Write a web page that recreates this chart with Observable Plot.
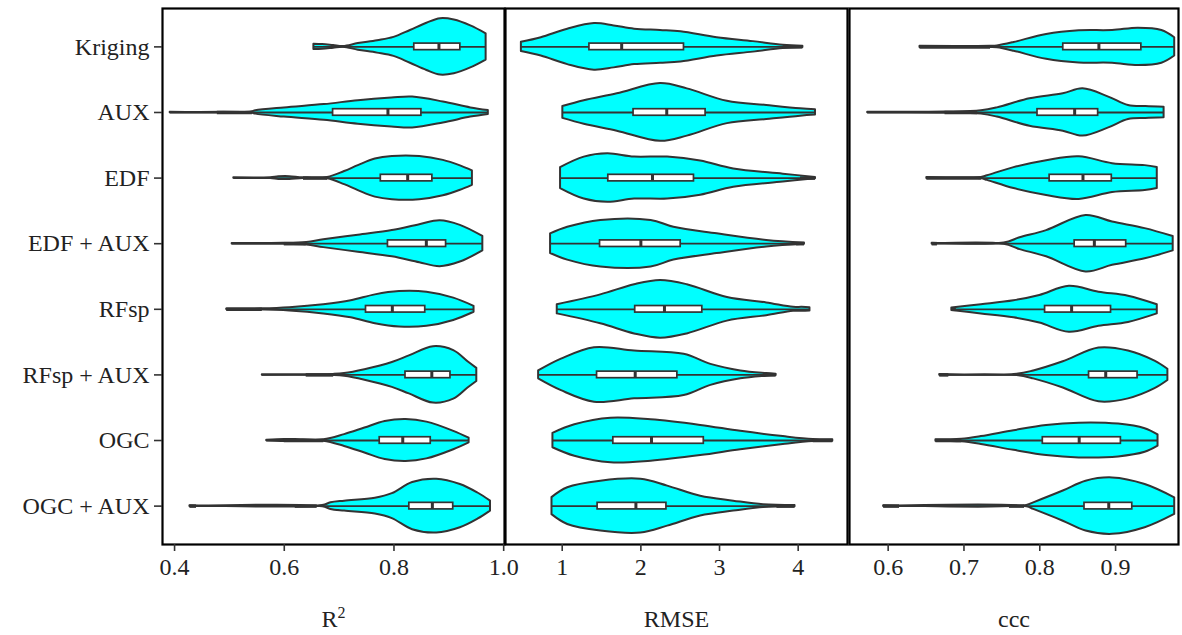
<!DOCTYPE html>
<html>
<head>
<meta charset="utf-8">
<script src="https://cdn.jsdelivr.net/npm/d3@7"></script>
<script src="https://cdn.jsdelivr.net/npm/@observablehq/plot@0.6"></script>
<style>
  body { margin: 0; background: white; }
  #wrap { position: relative; width: 1182px; height: 635px; background: white; }
  #wrap > div { position: absolute; top: 0; }
</style>
</head>
<body>
<div id="wrap"><div id="p1"></div><div id="p2"></div><div id="p3"></div></div>
<script>
const categories = ["Kriging", "AUX", "EDF", "EDF + AUX", "RFsp", "RFsp + AUX", "OGC", "OGC + AUX"];

// Violin outlines: [value, half-width in row units]
const r2Violins = [
  [[0.654,0.04],[0.67,0.035],[0.69,0.02],[0.708,0.006],[0.735,0.05],[0.77,0.095],[0.80,0.145],[0.83,0.25],[0.86,0.36],[0.885,0.43],[0.91,0.41],[0.94,0.32],[0.968,0.2]],
  [[0.392,0.004],[0.54,0.006],[0.548,0.025],[0.60,0.07],[0.673,0.12],[0.735,0.18],[0.796,0.22],[0.834,0.235],[0.89,0.16],[0.94,0.07],[0.972,0.03]],
  [[0.508,0.004],[0.575,0.006],[0.59,0.02],[0.61,0.022],[0.635,0.006],[0.679,0.01],[0.71,0.10],[0.735,0.19],[0.766,0.29],[0.797,0.33],[0.847,0.33],[0.89,0.27],[0.92,0.19],[0.943,0.11]],
  [[0.505,0.004],[0.598,0.006],[0.641,0.02],[0.672,0.06],[0.735,0.13],[0.797,0.2],[0.847,0.29],[0.884,0.35],[0.921,0.28],[0.962,0.11]],
  [[0.495,0.004],[0.56,0.008],[0.61,0.025],[0.672,0.07],[0.722,0.13],[0.766,0.22],[0.81,0.27],[0.86,0.26],[0.909,0.17],[0.946,0.045]],
  [[0.56,0.004],[0.69,0.008],[0.71,0.02],[0.747,0.08],[0.797,0.19],[0.828,0.29],[0.872,0.43],[0.909,0.37],[0.935,0.2],[0.951,0.1]],
  [[0.568,0.004],[0.60,0.015],[0.62,0.015],[0.672,0.01],[0.71,0.09],[0.747,0.19],[0.784,0.29],[0.822,0.32],[0.86,0.28],[0.909,0.14],[0.937,0.035]],
  [[0.428,0.004],[0.67,0.008],[0.685,0.05],[0.71,0.076],[0.766,0.12],[0.797,0.19],[0.834,0.36],[0.878,0.41],[0.921,0.33],[0.953,0.2],[0.976,0.076]]
];
const r2Q1 = [0.837,0.689,0.776,0.789,0.749,0.821,0.774,0.828];
const r2Median = [0.882,0.789,0.825,0.859,0.797,0.869,0.816,0.870];
const r2Q3 = [0.921,0.850,0.870,0.895,0.857,0.903,0.867,0.908];
const r2Outliers = [null, [[0.478,0.542]], [[0.635,0.679]], [[0.60,0.64]], [[0.495,0.56]], [[0.64,0.69]], [[0.60,0.672]], [[0.428,0.44],[0.62,0.66]]];

const rmseViolins = [
  [[0.481,0.07],[0.734,0.14],[1.07,0.27],[1.41,0.355],[1.66,0.32],[1.92,0.27],[2.25,0.25],[2.51,0.23],[2.97,0.14],[3.43,0.08],[3.81,0.025],[4.06,0.01]],
  [[1.008,0.09],[1.28,0.18],[1.70,0.285],[2.25,0.44],[2.59,0.36],[3.10,0.17],[3.60,0.107],[4.03,0.056],[4.22,0.04]],
  [[0.979,0.16],[1.28,0.32],[1.58,0.37],[1.92,0.32],[2.34,0.32],[2.76,0.26],[3.18,0.14],[3.81,0.06],[4.22,0.01]],
  [[0.852,0.15],[1.07,0.25],[1.49,0.355],[2.13,0.355],[2.42,0.25],[2.97,0.15],[3.60,0.05],[4.08,0.01]],
  [[0.937,0.07],[1.49,0.22],[1.92,0.375],[2.25,0.44],[2.59,0.375],[3.10,0.18],[3.60,0.097],[3.94,0.03],[4.05,0.03],[4.15,0.025]],
  [[0.70,0.06],[0.99,0.24],[1.41,0.415],[1.92,0.365],[2.55,0.315],[2.89,0.16],[3.27,0.06],[3.60,0.02],[3.72,0.01]],
  [[0.882,0.11],[1.16,0.24],[1.62,0.34],[2.13,0.315],[2.76,0.23],[3.27,0.14],[3.81,0.06],[4.19,0.015],[4.44,0.01]],
  [[0.87,0.13],[1.07,0.28],[1.49,0.38],[2.0,0.41],[2.34,0.305],[2.76,0.15],[3.18,0.076],[3.56,0.02],[3.96,0.008]]
];
const rmseQ1 = [1.346,1.907,1.586,1.481,1.928,1.443,1.65,1.45];
const rmseMedian = [1.756,2.329,2.148,2.0,2.30,1.928,2.135,1.937];
const rmseQ3 = [2.548,2.823,2.675,2.506,2.781,2.464,2.80,2.325];
const rmseOutliers = [[[3.81,4.06]], null, [[4.03,4.22]], [[3.98,4.08]], null, [[3.56,3.72]], [[4.19,4.44]], [[3.73,3.96]]];

const cccViolins = [
  [[0.642,0.008],[0.735,0.01],[0.744,0.015],[0.766,0.066],[0.809,0.19],[0.852,0.245],[0.896,0.25],[0.93,0.285],[0.961,0.25],[0.978,0.14]],
  [[0.573,0.004],[0.675,0.006],[0.723,0.025],[0.744,0.07],[0.787,0.21],[0.831,0.285],[0.857,0.36],[0.891,0.235],[0.917,0.107],[0.94,0.09],[0.964,0.08]],
  [[0.651,0.008],[0.723,0.01],[0.731,0.035],[0.766,0.16],[0.809,0.265],[0.852,0.325],[0.896,0.22],[0.939,0.19],[0.955,0.16]],
  [[0.658,0.006],[0.753,0.01],[0.774,0.09],[0.809,0.2],[0.861,0.43],[0.896,0.33],[0.939,0.23],[0.976,0.11]],
  [[0.684,0.02],[0.723,0.07],[0.766,0.13],[0.80,0.21],[0.839,0.35],[0.878,0.26],[0.917,0.2],[0.955,0.07]],
  [[0.668,0.005],[0.77,0.01],[0.792,0.06],[0.831,0.2],[0.878,0.41],[0.917,0.365],[0.952,0.21],[0.969,0.086]],
  [[0.663,0.01],[0.697,0.02],[0.723,0.06],[0.766,0.15],[0.809,0.23],[0.852,0.265],[0.904,0.25],[0.939,0.18],[0.956,0.086]],
  [[0.594,0.005],[0.783,0.01],[0.792,0.05],[0.831,0.23],[0.861,0.38],[0.896,0.43],[0.939,0.33],[0.978,0.127]]
];
const cccQ1 = [0.831,0.797,0.813,0.846,0.807,0.865,0.804,0.859];
const cccMedian = [0.878,0.846,0.857,0.872,0.842,0.887,0.852,0.891];
const cccQ3 = [0.934,0.877,0.895,0.914,0.894,0.929,0.907,0.922];
const cccOutliers = [[[0.642,0.735]], [[0.675,0.718]], [[0.651,0.723]], [[0.658,0.665]], [[0.684,0.69]], [[0.668,0.68]], [[0.663,0.697]], [[0.594,0.615],[0.76,0.78]]];

const r2Ticks = [0.4, 0.6, 0.8, 1.0];
const rmseTicks = [1, 2, 3, 4];
const cccTicks = [0.6, 0.7, 0.8, 0.9];

const INK = "#333";
const CYAN = "#00FFFF";

function panel(o) {
  const areaData = o.violins.flatMap((prof, i) => prof.map(([v, hw]) => ({i, v, hw})));
  const lineData = o.violins.map((prof, i) => ({i, min: prof[0][0], max: prof[prof.length - 1][0]}));
  const outData = o.outliers.flatMap((r, i) => r ? r.map(([a, b]) => ({i, a, b})) : []);
  const boxData = o.q1.map((d, i) => ({i, q1: d, med: o.med[i], q3: o.q3[i]}));
  const bh = 0.05;
  return Plot.plot({
    width: o.width, height: 635,
    marginTop: 8, marginBottom: 91, marginLeft: o.marginLeft, marginRight: o.marginRight,
    x: {domain: o.domain},
    y: {domain: [-0.585, 7.585], reverse: true, axis: null},
    style: {fontFamily: "'Liberation Serif', 'Times New Roman', serif", fontSize: "24px", color: "#222", background: "transparent", overflow: "visible"},
    marks: [
      Plot.areaY(areaData, {x: "v", y1: d => d.i - d.hw, y2: d => d.i + d.hw, z: "i", fill: CYAN, stroke: INK, strokeWidth: 2, curve: "catmull-rom"}),
      Plot.ruleY(lineData, {y: "i", x1: "min", x2: "max", stroke: INK, strokeWidth: 1.8}),
      Plot.ruleY(outData, {y: "i", x1: "a", x2: "b", stroke: INK, strokeWidth: 3.5}),
      Plot.rect(boxData, {x1: "q1", x2: "q3", y1: d => d.i - bh, y2: d => d.i + bh, fill: "white", stroke: INK, strokeWidth: 1.7}),
      Plot.ruleX(boxData, {x: "med", y1: d => d.i - bh, y2: d => d.i + bh, stroke: INK, strokeWidth: 3}),
      Plot.frame({stroke: "black", strokeWidth: 2.2}),
      Plot.axisX(o.ticks, {tickFormat: o.fmt, tickSize: 7, tickPadding: 6, strokeWidth: 1.6, stroke: INK, label: o.label, labelAnchor: "center", labelOffset: 82, labelArrow: "none"}),
      o.showY ? Plot.axisY(d3.range(categories.length), {tickFormat: i => categories[i], tickSize: 8, tickPadding: 5, strokeWidth: 1.6, stroke: INK, label: null}) : null
    ]
  });
}

const p1 = panel({violins: r2Violins, q1: r2Q1, med: r2Median, q3: r2Q3, outliers: r2Outliers,
  domain: [0.378, 1.0015], ticks: r2Ticks, fmt: d3.format(".1f"), label: "R²",
  width: 505, marginLeft: 162, marginRight: 1, showY: true});
const p2 = panel({violins: rmseViolins, q1: rmseQ1, med: rmseMedian, q3: rmseQ3, outliers: rmseOutliers,
  domain: [0.279, 4.627], ticks: rmseTicks, fmt: d3.format("d"), label: "RMSE",
  width: 344, marginLeft: 1, marginRight: 1, showY: false});
const p3 = panel({violins: cccViolins, q1: cccQ1, med: cccMedian, q3: cccQ3, outliers: cccOutliers,
  domain: [0.549, 0.983], ticks: cccTicks, fmt: d3.format(".1f"), label: "ccc",
  width: 333, marginLeft: 1, marginRight: 3, showY: false});

// Render the R² axis title with a proper superscript
p1.querySelectorAll("text").forEach(t => {
  if (t.textContent === "R²") {
    const ns = "http://www.w3.org/2000/svg";
    t.textContent = "R";
    const s = document.createElementNS(ns, "tspan");
    s.setAttribute("dy", "-0.55em");
    s.setAttribute("font-size", "16");
    s.textContent = "2";
    t.appendChild(s);
  }
});

const d1 = document.getElementById("p1"); d1.style.left = "0px"; d1.appendChild(p1);
const d2 = document.getElementById("p2"); d2.style.left = "504px"; d2.appendChild(p2);
const d3el = document.getElementById("p3"); d3el.style.left = "848px"; d3el.appendChild(p3);
</script>
</body>
</html>
